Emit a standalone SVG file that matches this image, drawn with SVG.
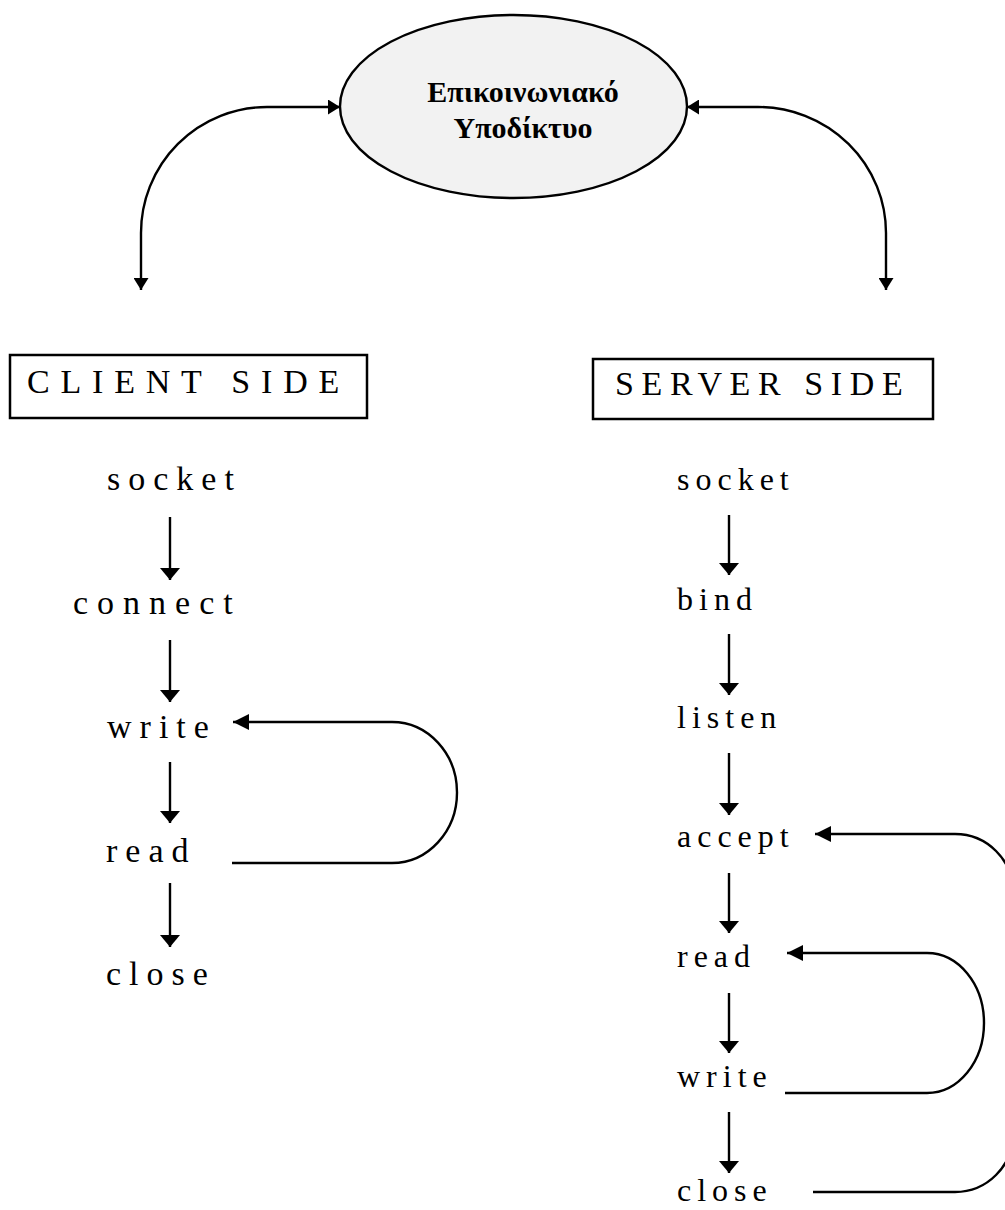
<svg xmlns="http://www.w3.org/2000/svg" width="1005" height="1210" viewBox="0 0 1005 1210">
<style>
.ln{fill:none;stroke:#000;stroke-width:2.4}
.lbl{font-family:"Liberation Serif","Times New Roman",serif;fill:#000}
.c{font-size:34px;letter-spacing:8px}
.s{font-size:32px;letter-spacing:6px}
.hd{font-size:34px}
.box{fill:#fff;stroke:#000;stroke-width:2.5}
.el{font-family:"Liberation Serif","Times New Roman",serif;font-size:30px;font-weight:bold;fill:#000}
</style>
<defs>
<marker id="ah" viewBox="0 0 12 20" refX="12" refY="10" markerWidth="12" markerHeight="20" markerUnits="userSpaceOnUse" orient="auto"><path d="M0,0 L12,10 L0,20 Z" fill="#000"/></marker>
<marker id="al" viewBox="0 0 16 16" refX="16" refY="8" markerWidth="16" markerHeight="16" markerUnits="userSpaceOnUse" orient="auto"><path d="M0,0 L16,8 L0,16 Z" fill="#000"/></marker>
<marker id="at" viewBox="0 0 12 15" refX="12" refY="7.5" markerWidth="12" markerHeight="15" markerUnits="userSpaceOnUse" orient="auto-start-reverse"><path d="M0,0 L12,7.5 L0,15 Z" fill="#000"/></marker>
</defs>
<rect width="1005" height="1210" fill="#fff"/>

<g id="network">
<ellipse cx="513.5" cy="106.5" rx="173.5" ry="91.5" fill="#f2f2f2" stroke="#000" stroke-width="2.4"/>
<text class="el" x="523" y="102" text-anchor="middle">Επικοινωνιακό</text>
<text class="el" x="523" y="138" text-anchor="middle">Υποδίκτυο</text>
</g>

<g id="client-header">
<rect class="box" x="10" y="355" width="357" height="63"/>
<text class="lbl hd" x="27" y="393" style="letter-spacing:10.8px">CLIENT SIDE</text>
</g>
<g id="server-header">
<rect class="box" x="593" y="359" width="340" height="60"/>
<text class="lbl hd" x="615" y="395" style="letter-spacing:7.6px">SERVER SIDE</text>
</g>

<g id="c-socket"><text class="lbl c" x="107" y="490">socket</text></g>
<g id="c-connect"><text class="lbl c" x="73" y="614" style="letter-spacing:9px">connect</text></g>
<g id="c-write"><text class="lbl c" x="107" y="738">write</text></g>
<g id="c-read"><text class="lbl c" x="106" y="862">read</text></g>
<g id="c-close"><text class="lbl c" x="106" y="985">close</text></g>

<g id="s-socket"><text class="lbl s" x="677" y="490">socket</text></g>
<g id="s-bind"><text class="lbl s" x="677" y="610">bind</text></g>
<g id="s-listen"><text class="lbl s" x="677" y="728">listen</text></g>
<g id="s-accept"><text class="lbl s" x="677" y="847">accept</text></g>
<g id="s-read"><text class="lbl s" x="677" y="967">read</text></g>
<g id="s-write"><text class="lbl s" x="677" y="1087">write</text></g>
<g id="s-close"><text class="lbl s" x="677" y="1201">close</text></g>

<g id="connectors">
<path class="ln" d="M141,290 V233 A126,126 0 0 1 267,107 H340" marker-start="url(#at)" marker-end="url(#at)"/>
<path class="ln" d="M687,107 H758 A128,126 0 0 1 886,233 V290" marker-start="url(#at)" marker-end="url(#at)"/>

<path class="ln" d="M170,517 V580" marker-end="url(#ah)"/>
<path class="ln" d="M170,640 V702" marker-end="url(#ah)"/>
<path class="ln" d="M170,762 V823" marker-end="url(#ah)"/>
<path class="ln" d="M170,883 V947" marker-end="url(#ah)"/>
<path class="ln" d="M232,863 H392 A65,70.5 0 0 0 392,722 H233" marker-end="url(#al)"/>

<path class="ln" d="M729,515 V575" marker-end="url(#ah)"/>
<path class="ln" d="M729,634 V695" marker-end="url(#ah)"/>
<path class="ln" d="M729,753 V815" marker-end="url(#ah)"/>
<path class="ln" d="M729,873 V933" marker-end="url(#ah)"/>
<path class="ln" d="M729,993 V1053" marker-end="url(#ah)"/>
<path class="ln" d="M729,1112 V1173" marker-end="url(#ah)"/>
<path class="ln" d="M785,1093 H927 A57,70 0 0 0 927,953 H787" marker-end="url(#al)"/>
<path class="ln" d="M813,1192 H955 A58,58 0 0 0 1013,1134 V892 A58,58 0 0 0 955,834 H815" marker-end="url(#al)"/>
</g>
</svg>
